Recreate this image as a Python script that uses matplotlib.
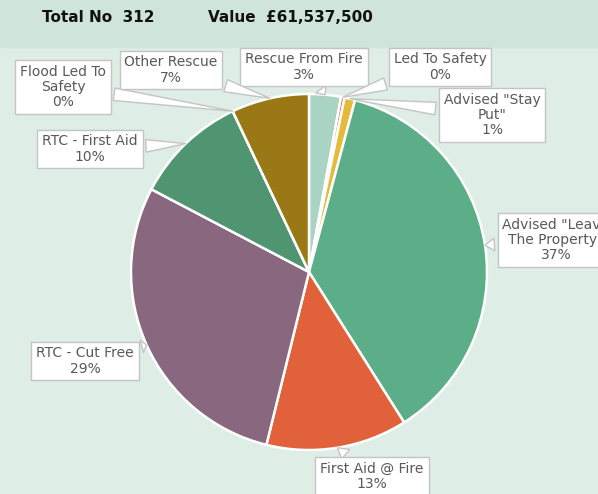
import matplotlib.pyplot as plt
from matplotlib.patches import Rectangle
import numpy as np

# data
categories = ['Rescue From Fire', 'Led To Safety', 'Advised "Stay\nPut"',
              'Advised "Leave\nThe Property"', 'First Aid @ Fire', 'RTC - Cut Free',
              'RTC - First Aid', 'Flood Led To\nSafety', 'Other Rescue']
counts = [9, 1, 3, 115, 40, 90, 32, 0, 22]
colors = ['#a9d4c3', '#e8603c', '#e5b93a', '#5bae87', '#e0613a', '#89677f',
          '#4f9572', '#8fa9c9', '#9a7815']
total_value = 61537500

# label box centres, picture pixels (x from left, y from top)
label_pos = [(304, 67), (440, 67), (492, 115), (556, 240), (372, 476),
             (85, 361), (90, 149), (63, 87), (171, 70)]

W, H = 598, 494
FONT = ['DejaVu Sans']


def px(x, y):
    return (x, H - y)


fig = plt.figure(figsize=(W / 100, H / 100), dpi=100)
ax = fig.add_axes([0, 0, 1, 1])
ax.set_xlim(0, W)
ax.set_ylim(0, H)
ax.set_aspect('equal')
ax.axis('off')

ax.add_patch(Rectangle((0, 0), W, H, color='#deede6', zorder=0))
ax.add_patch(Rectangle((0, H - 47), W, 47, color='#cfe4db', zorder=0))

total = sum(counts)
ax.text(42, H - 18, f'Total No  {total}', fontsize=11, fontweight='bold',
        family=FONT, va='center', ha='left', color='#111111')
ax.text(208, H - 18, f'Value  £{total_value:,}', fontsize=11, fontweight='bold',
        family=FONT, va='center', ha='left', color='#111111')

cx, cy = px(309, 272)
r = 178
wedges, _ = ax.pie(counts, colors=colors, startangle=90, counterclock=False,
                   center=(cx, cy), radius=r,
                   wedgeprops=dict(edgecolor='white', linewidth=1.8))
ax.set_xlim(0, W)
ax.set_ylim(0, H)

for w, name, n, pos in zip(wedges, categories, counts, label_pos):
    mid = np.deg2rad((w.theta1 + w.theta2) / 2)
    tip = (cx + r * np.cos(mid), cy + r * np.sin(mid))
    pct = round(n / total * 100)
    ax.annotate(f'{name}\n{pct}%', xy=tip, xytext=px(*pos),
                ha='center', va='center', fontsize=10, family=FONT,
                color='#595959', linespacing=1.1, zorder=5,
                bbox=dict(boxstyle='square,pad=0.35', fc='white', ec='#c4c4c4', lw=1),
                arrowprops=dict(arrowstyle='wedge,tail_width=0.9,shrink_factor=0.5',
                                fc='white', ec='#c4c4c4', lw=1, shrinkB=0))

fig.savefig('out.png', dpi=100)
